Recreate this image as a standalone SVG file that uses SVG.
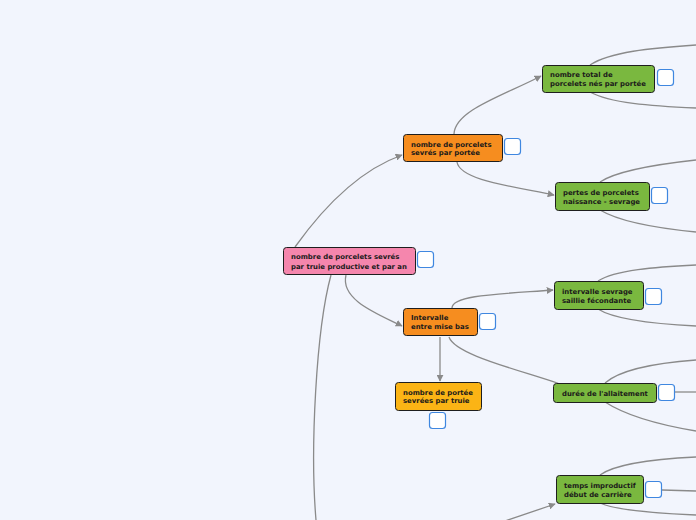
<svg xmlns="http://www.w3.org/2000/svg" width="696" height="520" viewBox="0 0 696 520">
<style>
.bg{fill:#f2f5fd}
.box{stroke:#1e1e1e;stroke-width:1}
.pink{fill:#f586ad}
.orange{fill:#f68d1f}
.yellow{fill:#fbb415}
.green{fill:#7ab83f}
.cb{fill:#ffffff;stroke:#3f87e0;stroke-width:1.2}
.t{font-family:"DejaVu Sans",Verdana,sans-serif;font-weight:bold;font-size:6.9px;fill:#1a1a1a}
.c{fill:none;stroke:#8a8a8a;stroke-width:1.3}
</style>
<defs>
<marker id="ah" viewBox="0 0 10 10" refX="9" refY="5" markerWidth="7" markerHeight="7" markerUnits="userSpaceOnUse" orient="auto">
<path d="M0,0 L10,5 L0,10 z" fill="#8a8a8a"/>
</marker>
</defs>
<rect class="bg" x="0" y="0" width="696" height="520"/>
<g id="connectors">
<path class="c" d="M295 247 C325 205 360 170 402 155" marker-end="url(#ah)"/>
<path class="c" d="M346 275 C340 300 378 314 402 326" marker-end="url(#ah)"/>
<path class="c" d="M331 275 C316 330 310 450 316 520"/>
<path class="c" d="M454 134 C455 110 505 95 541 76" marker-end="url(#ah)"/>
<path class="c" d="M457 162 C460 180 510 186 554 195" marker-end="url(#ah)"/>
<path class="c" d="M590 65 C610 52 650 48 696 45"/>
<path class="c" d="M590 92 C610 103 650 106 696 108"/>
<path class="c" d="M600 182 C615 172 650 165 696 160"/>
<path class="c" d="M600 210 C620 222 655 228 696 232"/>
<path class="c" d="M452 308 C452 295 500 294 553 290" marker-end="url(#ah)"/>
<path class="c" d="M440 337 L440 381" marker-end="url(#ah)"/>
<path class="c" d="M449 337 C455 355 520 370 560 384"/>
<path class="c" d="M598 281 C615 270 655 267 696 265"/>
<path class="c" d="M598 309 C615 320 655 324 696 326"/>
<path class="c" d="M605 383 C620 370 655 363 696 360"/>
<path class="c" d="M675 392 L696 392"/>
<path class="c" d="M605 402 C625 415 660 425 696 431"/>
<path class="c" d="M600 475 C615 464 655 459 696 457"/>
<path class="c" d="M662 490 L696 491"/>
<path class="c" d="M600 503 C615 510 650 513 696 515"/>
<path class="c" d="M505 521 L555 504" marker-end="url(#ah)"/>
</g>
<g id="root">
<rect class="box pink" x="283.5" y="247.5" width="132" height="27" rx="3"/>
<text class="t" x="291" y="259">nombre de porcelets sevrés</text>
<text class="t" x="291" y="268.5">par truie productive et par an</text>
<rect class="cb" x="417.5" y="251.5" width="16" height="16" rx="3"/>
</g>
<g id="n-sevres-portee">
<rect class="box orange" x="403.5" y="134.5" width="99" height="27" rx="3"/>
<text class="t" x="411" y="146.5">nombre de porcelets</text>
<text class="t" x="411" y="155">sevrés par portée</text>
<rect class="cb" x="504.5" y="138.5" width="16" height="16" rx="3"/>
</g>
<g id="n-total-nes">
<rect class="box green" x="542.5" y="65.5" width="112" height="27" rx="3"/>
<text class="t" x="550" y="77">nombre total de</text>
<text class="t" x="550" y="86">porcelets nés par portée</text>
<rect class="cb" x="657.5" y="69.5" width="16" height="16" rx="3"/>
</g>
<g id="n-pertes">
<rect class="box green" x="555.5" y="182.5" width="94" height="28" rx="3"/>
<text class="t" x="563" y="194.5">pertes de porcelets</text>
<text class="t" x="563" y="203.5">naissance - sevrage</text>
<rect class="cb" x="651.5" y="187.5" width="16" height="16" rx="3"/>
</g>
<g id="n-intervalle">
<rect class="box orange" x="403.5" y="308.5" width="74" height="27" rx="3"/>
<text class="t" x="411" y="320">Intervalle</text>
<text class="t" x="411" y="328.5">entre mise bas</text>
<rect class="cb" x="479.5" y="313.5" width="16" height="16" rx="3"/>
</g>
<g id="n-portees">
<rect class="box yellow" x="395.5" y="382.5" width="86" height="28" rx="3"/>
<text class="t" x="403" y="394.5">nombre de portée</text>
<text class="t" x="403" y="403">sevrées par truie</text>
<rect class="cb" x="429.5" y="412.5" width="16" height="16" rx="3"/>
</g>
<g id="n-isf">
<rect class="box green" x="554.5" y="281.5" width="89" height="28" rx="3"/>
<text class="t" x="562" y="294">intervalle sevrage</text>
<text class="t" x="562" y="302.5">saillie fécondante</text>
<rect class="cb" x="645.5" y="288.5" width="16" height="16" rx="3"/>
</g>
<g id="n-allaitement">
<rect class="box green" x="553.5" y="383.5" width="103" height="19" rx="3"/>
<text class="t" x="562" y="395.5">durée de l'allaitement</text>
<rect class="cb" x="658.5" y="384.5" width="16" height="16" rx="3"/>
</g>
<g id="n-improductif">
<rect class="box green" x="556.5" y="475.5" width="87" height="28" rx="3"/>
<text class="t" x="564" y="487.5">temps improductif</text>
<text class="t" x="564" y="496.5">début de carrière</text>
<rect class="cb" x="645.5" y="481.5" width="16" height="16" rx="3"/>
</g>
</svg>
